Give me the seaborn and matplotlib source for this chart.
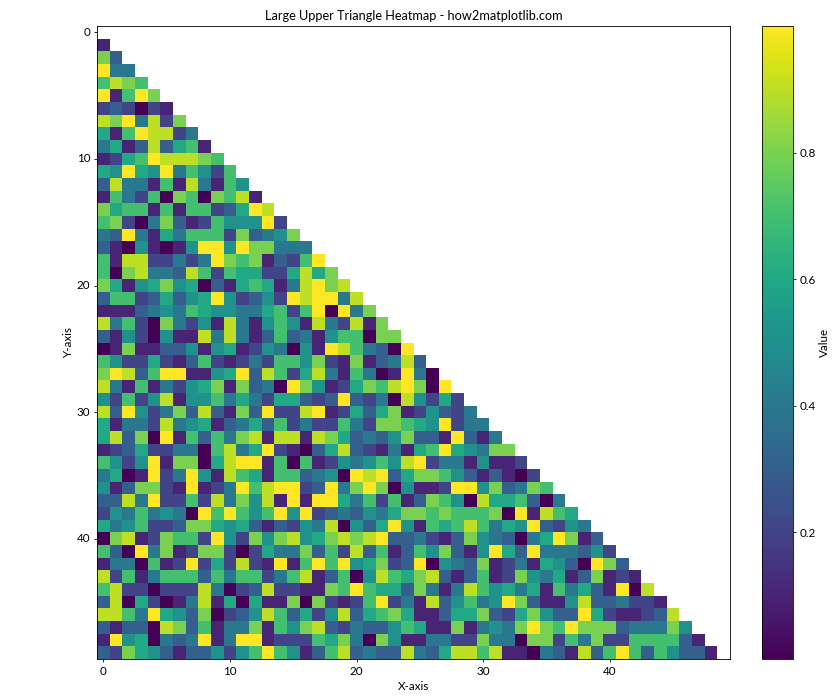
import numpy as np
import matplotlib
matplotlib.use("Agg")
import matplotlib.pyplot as plt
import seaborn as sns

plt.rcParams['font.family'] = ['Lato', 'DejaVu Sans']
plt.rcParams['font.size'] = 10

# cell values, in tenths, row by row (row 0 is empty)
rows = [
    [],
    [1],
    [8,3],
    [10,4,4],
    [7,9,8,7],
    [10,1,7,10,8],
    [2,3,2,0,2,1],
    [9,8,10,4,9,2,8],
    [6,1,7,10,9,9,2,4],
    [4,6,1,3,9,3,6,7,1],
    [1,2,6,7,10,9,9,9,8,7],
    [6,5,10,6,5,10,4,7,5,2,7],
    [3,9,4,4,1,7,1,9,4,1,7,5],
    [1,7,4,2,7,0,8,7,0,8,7,9,1],
    [8,6,7,7,1,7,1,7,7,2,3,6,10,9],
    [7,8,2,0,4,8,3,1,2,7,5,5,5,10,2],
    [4,3,10,4,1,6,4,7,7,7,2,8,3,4,5,8],
    [3,1,0,5,1,0,1,5,10,10,5,10,8,8,4,4,4],
    [7,1,9,9,2,2,4,2,4,10,8,7,8,1,3,2,7,10],
    [7,0,8,9,4,4,3,9,7,2,7,6,6,2,2,6,9,6,8],
    [8,6,1,5,6,8,5,6,0,3,1,6,7,6,1,4,9,10,8,9],
    [3,7,7,2,3,6,3,5,6,10,5,2,3,5,2,10,9,10,10,4,9],
    [1,1,1,3,4,5,4,7,6,5,5,4,4,6,7,2,7,10,0,10,4,8],
    [9,4,7,2,0,8,4,2,5,1,9,4,1,5,7,5,1,9,4,2,9,1,8],
    [3,1,5,2,0,5,1,1,9,4,9,4,1,3,7,3,4,1,5,7,7,0,8,8],
    [0,1,8,1,1,3,3,5,1,5,6,1,2,5,4,0,5,1,10,9,7,4,3,0,10],
    [7,5,2,2,6,2,1,3,7,2,1,2,4,2,7,7,5,8,2,1,8,1,3,4,9,3],
    [8,10,9,3,7,10,10,1,1,5,6,10,3,9,7,2,6,9,4,1,7,4,0,1,10,4,0],
    [9,4,1,7,1,4,2,5,6,8,1,8,3,4,0,10,8,5,1,2,6,8,7,9,10,8,0,10],
    [5,2,7,2,5,9,1,5,5,7,4,6,4,2,6,6,3,2,3,10,3,2,4,0,9,5,2,6,2],
    [9,3,10,5,2,4,8,3,9,3,1,8,3,10,2,2,9,10,1,2,6,3,6,8,1,2,5,3,2,4],
    [6,1,4,4,2,9,4,5,6,1,3,4,6,3,7,2,4,2,2,7,4,2,8,8,7,6,5,10,2,4,4],
    [6,9,3,8,0,10,1,7,3,7,4,8,9,1,9,9,1,9,8,6,3,4,3,5,8,3,3,1,10,3,1,4],
    [1,2,3,6,2,2,4,4,0,7,9,4,6,10,2,1,0,3,6,9,3,2,1,4,1,6,7,10,6,5,4,8,8],
    [7,5,2,5,10,1,8,8,0,6,9,10,10,1,7,0,7,1,2,5,4,5,7,5,9,10,2,4,4,1,5,1,1,2],
    [4,6,0,1,10,2,4,10,5,1,9,7,6,1,7,7,3,4,5,0,10,9,10,3,6,8,8,7,5,3,1,3,1,0,2],
    [5,1,3,8,8,2,1,10,1,2,4,10,7,9,10,10,2,3,10,4,8,10,8,0,5,1,1,2,10,10,5,8,3,4,8,7],
    [3,3,9,4,10,2,2,7,2,9,4,8,5,9,1,10,1,10,10,6,4,7,2,7,1,3,8,7,5,0,9,6,6,7,3,0,4],
    [2,5,4,7,4,5,4,0,10,7,10,7,5,7,10,5,10,2,3,4,3,5,4,6,8,8,7,8,7,7,7,8,0,10,1,9,7,6],
    [6,4,5,7,2,2,3,8,8,6,5,6,3,1,3,2,5,4,9,0,5,3,6,10,5,1,7,6,7,9,7,4,6,5,10,3,2,5,4],
    [0,8,9,1,2,8,7,7,2,10,5,2,8,5,8,9,5,6,8,9,8,9,10,3,3,4,2,1,3,8,5,4,3,0,4,6,10,8,1,3],
    [7,3,0,10,4,8,1,2,8,8,2,0,2,6,4,4,8,3,7,2,9,3,7,1,3,7,5,8,3,1,5,10,6,3,10,4,4,4,3,5,2],
    [1,4,4,0,7,1,2,10,2,6,2,9,2,1,10,1,7,10,7,10,5,6,8,2,3,10,0,5,4,3,8,1,2,4,1,6,5,3,0,10,8,3],
    [9,2,7,1,4,7,7,7,3,7,4,7,7,2,4,7,9,1,3,7,0,5,9,7,6,8,9,3,1,3,7,1,2,8,5,4,6,1,3,8,1,2,1],
    [7,9,2,2,0,2,2,2,9,4,0,2,3,9,2,2,1,1,8,7,10,7,6,6,3,8,4,1,4,9,7,5,6,4,6,1,7,4,6,3,1,10,0,9],
    [3,9,0,6,2,0,1,4,9,1,6,0,6,1,1,8,0,8,2,1,2,7,10,2,4,1,9,3,5,7,4,5,10,8,3,1,1,5,9,3,3,4,2,2,1],
    [9,9,7,4,10,6,5,3,8,0,2,3,5,9,7,3,6,2,5,9,3,6,7,8,6,1,1,3,6,6,8,3,2,6,8,5,3,3,10,6,2,1,1,2,3,9],
    [3,1,3,3,0,9,8,3,7,1,4,4,8,1,7,5,8,9,3,2,4,3,3,5,7,6,1,1,8,1,4,5,4,8,10,8,7,10,8,8,8,3,4,4,4,8,5],
    [1,10,5,6,0,4,3,4,10,1,4,10,10,1,2,2,2,7,6,8,4,0,8,5,1,1,4,4,2,2,8,4,4,0,8,8,2,7,4,8,2,2,7,7,7,7,3,1],
    [3,2,8,6,5,3,1,3,3,5,2,5,7,10,7,5,1,3,7,9,3,4,3,3,9,4,3,6,9,9,7,9,1,1,0,4,3,1,9,3,7,10,7,3,7,5,3,3,1],
]
tick_labels = [0, 10, 20, 30, 40]
cbar_ticks = [0.2, 0.4, 0.6, 0.8]

n = len(rows)
data = np.full((n, n), np.nan)
for i, r in enumerate(rows):
    data[i, :len(r)] = np.array(r) / 10

W, H = 840, 700
fig = plt.figure(figsize=(W / 100, H / 100), dpi=100)
ax = fig.add_axes([97 / W, 1 - 659 / H, 633 / W, 633 / H])
cax = fig.add_axes([762 / W, 1 - 659 / H, 31 / W, 633 / H])

sns.heatmap(data, mask=np.isnan(data), cmap='viridis', vmin=0, vmax=1, ax=ax, cbar_ax=cax,
            cbar_kws={'label': 'Value'}, square=False)

# ticks sit on the cell centres
ax.set_xticks([t + 0.5 for t in tick_labels])
ax.set_xticklabels(tick_labels, rotation=0)
ax.set_yticks([t + 0.5 for t in tick_labels])
ax.set_yticklabels(tick_labels, rotation=0)
ax.tick_params(labelsize=8.4, length=2.5, width=0.6, pad=2.5)
for s in ax.spines.values():
    s.set_visible(True)
    s.set_linewidth(0.6)

ax.set_xlabel('X-axis', fontsize=8.4, labelpad=3)
ax.set_ylabel('Y-axis', fontsize=8.4, labelpad=2)
ax.set_title('Large Upper Triangle Heatmap - how2matplotlib.com', fontsize=9.2, pad=4)

cbar = ax.collections[0].colorbar
cbar.set_ticks(cbar_ticks)
cbar.ax.tick_params(labelsize=8.4, length=2.5, width=0.6, pad=2.5)
cbar.set_label('Value', fontsize=8.4, labelpad=2)
cbar.outline.set_visible(True)
cbar.outline.set_linewidth(0.6)

plt.savefig('out.png', dpi=100)
